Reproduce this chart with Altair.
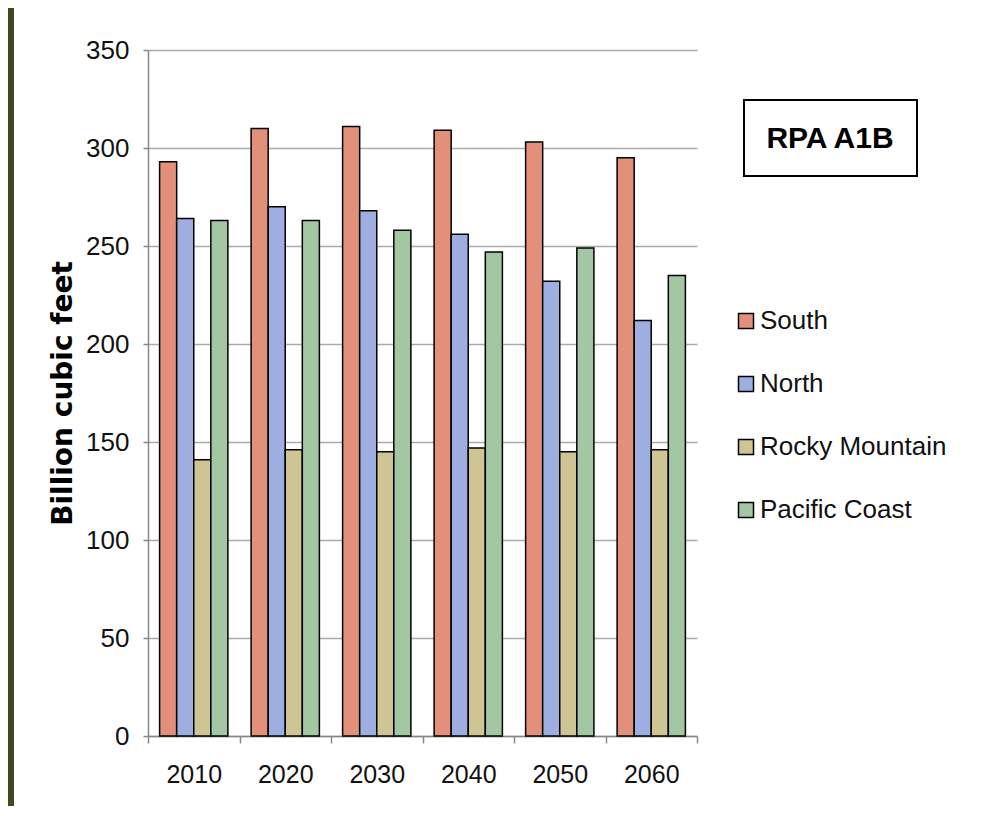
import altair as alt
import pandas as pd

years = ["2010", "2020", "2030", "2040", "2050", "2060"]
series = ["South", "North", "Rocky Mountain", "Pacific Coast"]
south = [293, 310, 311, 309, 303, 295]
north = [264, 270, 268, 256, 232, 212]
rocky = [141, 146, 145, 147, 145, 146]
pacific = [263, 263, 258, 247, 249, 235]
colors = ["#E3907A", "#9EAEE0", "#CEC494", "#A3C7A3"]
y_ticks = [0, 50, 100, 150, 200, 250, 300, 350]

values = {"South": south, "North": north, "Rocky Mountain": rocky, "Pacific Coast": pacific}
rows = []
for s in series:
    for yr, v in zip(years, values[s]):
        rows.append({"year": yr, "series": s, "value": v})
df = pd.DataFrame(rows)

FONT = "Liberation Sans, Arial, sans-serif"

bars = alt.Chart(df).mark_bar(stroke="black", strokeWidth=1.5).encode(
    x=alt.X("year:N", sort=years,
            scale=alt.Scale(paddingInner=0, paddingOuter=0),
            axis=alt.Axis(title=None, labelAngle=0, tickBand="extent",
                          labelFontSize=25, labelFont=FONT, labelColor="#111",
                          tickSize=7, tickColor="#888", tickWidth=1.5,
                          domainColor="#888", domainWidth=1.5, labelPadding=19, grid=False)),
    xOffset=alt.XOffset("series:N", sort=series,
                        scale=alt.Scale(paddingInner=0, paddingOuter=0.68)),
    y=alt.Y("value:Q", scale=alt.Scale(domain=[0, 350], nice=False),
            axis=alt.Axis(values=y_ticks, title="Billion cubic feet",
                          titleFont="DejaVu Sans", titleFontSize=28, titleFontWeight="bold",
                          titleColor="#000", titlePadding=8,
                          labelFontSize=26, labelFont=FONT, labelColor="#111",
                          labelPadding=14, tickSize=5, tickColor="#888", tickWidth=1.5,
                          domainColor="#888", domainWidth=1.5,
                          gridColor="#ABABAB", gridWidth=1.5)),
    color=alt.Color("series:N", sort=series,
                    scale=alt.Scale(domain=series, range=colors),
                    legend=alt.Legend(title=None, orient="none", legendX=585, legendY=258,
                                      labelFontSize=26, labelFont=FONT, labelColor="#111",
                                      labelLimit=400,
                                      symbolType="square", symbolSize=225,
                                      symbolStrokeColor="black", symbolStrokeWidth=1.5,
                                      symbolOpacity=1, rowPadding=37, labelOffset=1,
                                      padding=0)),
)

box_df = pd.DataFrame({"label": ["RPA A1B"]})
box = alt.Chart(box_df).mark_rect(fill="white", stroke="black", strokeWidth=2).encode(
    x=alt.value(596), x2=alt.value(769), y=alt.value(50), y2=alt.value(126)
)
box_text = alt.Chart(box_df).mark_text(
    font=FONT, fontSize=30, fontWeight="bold", color="black", baseline="middle", align="center"
).encode(text="label:N", x=alt.value(682), y=alt.value(89))

strip = alt.Chart(box_df).mark_rect(fill="#414822").encode(
    x=alt.value(-140), x2=alt.value(-134), y=alt.value(-42), y2=alt.value(760)
)

chart = alt.layer(bars, box, box_text, strip).properties(
    width=549, height=686,
    autosize="none",
    padding={"left": 140, "top": 42, "right": 276, "bottom": 70},
    background="white",
).configure_view(stroke=None)

chart.save("out.html", embed_options={"renderer": "svg", "actions": False})
